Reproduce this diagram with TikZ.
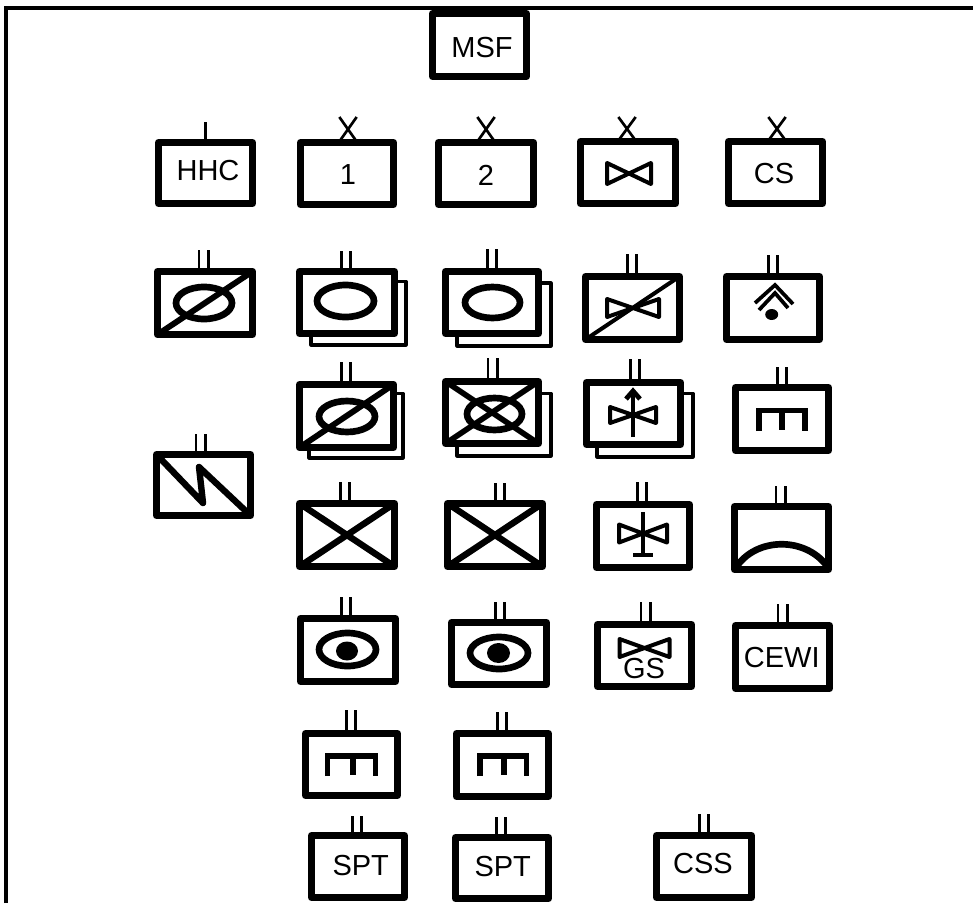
\documentclass[tikz,border=0pt]{standalone}
\usepackage{fontspec}
\setmainfont{Liberation Sans}
\tikzset{
  unitbox/.style={draw=black,line width=5.4pt,line join=round,inner sep=0pt,outer sep=0pt,fill=white},
  lbl/.style={anchor=base,inner sep=0pt,outer sep=0pt,font=\fontsize{21.75}{24}\selectfont},
  tickline/.style={draw=black,line width=2pt},
  shadowline/.style={draw=black,line width=2.3pt,line join=round},
  bowline/.style={draw=black,line width=3pt,line join=round},
  ovalline/.style={draw=black,line width=5pt},
  slashline/.style={draw=black,line width=4.4pt,line cap=round},
  crossline/.style={draw=black,line width=4.8pt},
  thinsym/.style={draw=black,line width=2.8pt},
  combline/.style={draw=black,line width=4.4pt,line join=miter},
}
\newcommand{\ubox}[5]{%
  \pgfmathsetmacro\uw{(#4-#2-7)*0.75}%
  \pgfmathsetmacro\uh{(#5-#3-7)*0.75}%
  \node[unitbox,minimum width=\uw pt,minimum height=\uh pt] (#1) at ({(#2+#4)/2},{(#3+#5)/2}) {};}
\newcommand{\tk}[3]{%
  \coordinate (#1-t) at (#2,#3);
  \draw[tickline] ([xshift=-3.5pt]#1-t) -- ([xshift=-3.5pt]#1-t |- #1.north);
  \draw[tickline] ([xshift=3.5pt]#1-t) -- ([xshift=3.5pt]#1-t |- #1.north);}
\newcommand{\xtk}[3]{%
  \coordinate (#1-t) at (#2,#3);
  \draw[tickline] ([xshift=-6.5pt]#1-t) -- ([xshift=7pt]#1-t |- #1.north);
  \draw[tickline] ([xshift=6.5pt]#1-t) -- ([xshift=-7pt]#1-t |- #1.north);}
\newcommand{\shad}[5]{%
  \draw[shadowline] (#1.east |- 0,#3) -- (#2,#3) -- (#2,#4) -- (#5,#4) -- (#5,0 |- #1.south);}
\newcommand{\bow}[4]{%
  \draw[bowline] ({#1-#3},{#2-#4}) -- ({#1+#3},{#2+#4}) -- ({#1+#3},{#2-#4}) -- ({#1-#3},{#2+#4}) -- cycle;}
\newcommand{\comb}[5]{%
  \draw[combline] (#1,#4) -- (#1,#3) -- (#2,#3) -- (#2,#4);
  \draw[combline] (#5,#3) -- (#5,{#4-1});}
\begin{document}
\begin{tikzpicture}[x=0.75pt,y=-0.75pt]
\useasboundingbox (0,0) rectangle (973,903);
\fill[white] (0,0) rectangle (973,903);
% frame
\coordinate (fa) at (6,903);
\coordinate (fb) at (6,8);
\coordinate (fc) at (973,8);
\draw[line width=2.4pt,line join=miter] (fa) -- (fb) -- (fc);

\ubox{msf}{429}{10}{530}{80}
\node[lbl] (msf-l) at (482,57.5) {MSF};

\ubox{hhc}{155}{139}{256}{207}
\coordinate (hhc-t) at (205.5,122);
\draw[tickline] (hhc-t) -- (hhc-t |- hhc.north);
\node[lbl] (hhc-l) at (208,180.5) {HHC};

\ubox{b1}{297}{139}{397}{208}
\xtk{b1}{348}{117}
\node[lbl] (b1-l) at (348,184) {1};
\ubox{b2}{435}{139}{537}{208}
\xtk{b2}{486}{117}
\node[lbl] (b2-l) at (486,185.5) {2};
\ubox{bb}{577}{138}{679}{207}
\xtk{bb}{627}{117}
\bow{629}{173.5}{22}{10.5}
\ubox{bcs}{725}{138}{826}{207}
\xtk{bcs}{777}{117}
\node[lbl] (bcs-l) at (774,183.5) {CS};

% row 2
\ubox{r2a}{154}{268}{256}{338}
\tk{r2a}{203.5}{250}
\draw[ovalline] (204,303) ellipse [x radius=28,y radius=16];
\draw[slashline] (r2a.south west) -- (r2a.north east);

\ubox{r2b}{296}{268}{398}{337}
\shad{r2b}{406}{281.5}{345}{311}
\tk{r2b}{346}{251}
\draw[ovalline] (345.5,301) ellipse [x radius=28.5,y radius=16];

\ubox{r2c}{442}{268}{542}{337}
\shad{r2c}{551}{283}{346}{457}
\tk{r2c}{492}{249}
\draw[ovalline] (492.5,302.5) ellipse [x radius=27.5,y radius=15.5];

\ubox{r2d}{582}{273}{683}{343}
\tk{r2d}{632}{254}
\bow{633}{308}{26}{9}
\draw[thinsym,line width=3pt] (r2d.south west) -- (r2d.north east);

\ubox{r2e}{723}{273}{823}{343}
\tk{r2e}{773}{255}
\draw[thinsym,line join=miter] (755,303) -- (775,285) -- (793,304);
\draw[thinsym,line join=miter] (759,310) -- (775,293) -- (788,308);
\fill[black] (771.7,314.5) ellipse [x radius=6.5,y radius=5.5];

% row 3
\ubox{r3a}{296}{381}{397}{451}
\shad{r3a}{403}{393.5}{458}{309}
\tk{r3a}{346}{362}
\draw[ovalline] (347,416.5) ellipse [x radius=28,y radius=15.5];
\draw[slashline] (r3a.south west) -- (r3a.north east);

\ubox{r3b}{442}{378}{542}{447}
\shad{r3b}{551}{393.5}{456}{457}
\tk{r3b}{492.7}{358}
\draw[ovalline] (494.5,414) ellipse [x radius=27.5,y radius=16];
\draw[crossline,line width=4.2pt] (r3b.south west) -- (r3b.north east);
\draw[crossline,line width=4.2pt] (r3b.north west) -- (r3b.south east);

\ubox{r3c}{583}{379}{684}{448}
\shad{r3c}{693}{393.5}{457}{597}
\tk{r3c}{635}{359}
\bow{633}{415}{23}{8}
\draw[thinsym] (633,437) -- (633,392);
\draw[thinsym,line width=3.6pt,line join=miter] (626,399) -- (633,391) -- (640,399);

\ubox{r3d}{732}{384}{832}{454}
\tk{r3d}{782}{367}
\comb{759}{805}{410.5}{431}{782}

% lightning
\ubox{lgt}{153}{451}{254}{519}
\tk{lgt}{200.5}{434}
\draw[draw=black,line width=4.8pt,line join=round] (lgt.north west) -- (203,503) -- (199,467) -- (lgt.south east);

% row 4
\ubox{x1}{296}{500}{398}{570}
\tk{x1}{345}{482}
\draw[crossline] (x1.south west) -- (x1.north east);
\draw[crossline] (x1.north west) -- (x1.south east);
\ubox{x2}{444}{500}{546}{570}
\tk{x2}{500}{483}
\draw[crossline] (x2.south west) -- (x2.north east);
\draw[crossline] (x2.north west) -- (x2.south east);
\ubox{r4c}{593}{501}{693}{571}
\tk{r4c}{642}{482}
\bow{643}{533.5}{24}{9}
\draw[thinsym] (642.7,512) -- (642.7,555);
\draw[thinsym] (633,555) -- (653,555);
\ubox{r4d}{731}{503}{832}{573}
\tk{r4d}{780.5}{486}
\draw[ovalline] (735,569) .. controls (755,536) and (808,536) .. (829,569);

% row 5
\ubox{e1}{297}{615}{399}{685}
\tk{e1}{346}{597}
\draw[ovalline] (347.5,649.5) ellipse [x radius=28.5,y radius=16.5];
\fill[black] (347,651) ellipse [x radius=11,y radius=9.5];
\ubox{e2}{448}{619}{550}{688}
\tk{e2}{500}{602}
\draw[ovalline] (499,653) ellipse [x radius=29,y radius=16];
\fill[black] (498.5,653) ellipse [x radius=11.5,y radius=10];
\ubox{gs}{594}{621}{695}{690}
\tk{gs}{645.5}{602}
\bow{644.5}{648}{25}{9}
\node[lbl] (gs-l) at (644,678) {GS};
\ubox{cewi}{732}{622}{833}{692}
\tk{cewi}{782.7}{604}
\node[lbl] (cewi-l) at (781.7,667.2) {CEWI};

% row 6
\ubox{m1}{302}{730}{401}{799}
\tk{m1}{351}{710}
\comb{327.5}{375.5}{756}{776}{352.7}
\ubox{m2}{453}{730}{552}{800}
\tk{m2}{502}{712}
\comb{480}{526.5}{756}{776}{504}

% row 7
\ubox{s1}{308}{832}{408}{901}
\tk{s1}{357}{816}
\node[lbl] (s1-l) at (360.7,875.5) {SPT};
\ubox{s2}{452}{834}{552}{902}
\tk{s2}{501}{817}
\node[lbl] (s2-l) at (502.7,876.5) {SPT};
\ubox{css}{653}{832}{755}{901}
\tk{css}{704}{814}
\node[lbl] (css-l) at (703,873.5) {CSS};
\end{tikzpicture}
\end{document}
